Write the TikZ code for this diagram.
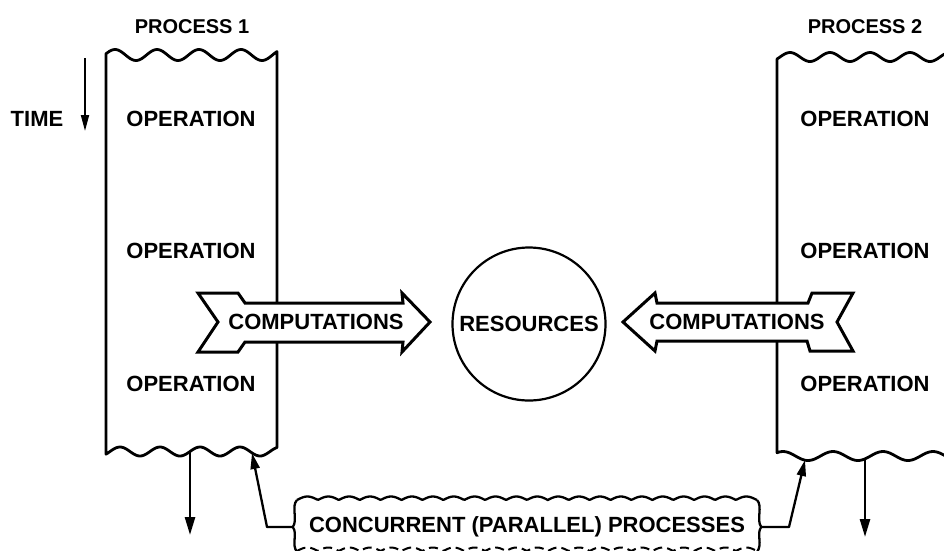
\documentclass[tikz,border=0pt]{standalone}
\usepackage{fontspec}
\setmainfont{Liberation Sans}
\usetikzlibrary{arrows.meta}
\begin{document}
\begin{tikzpicture}[x=1pt,y=-1pt,
  lbl/.style={font=\fontsize{22}{26}\selectfont\bfseries, inner sep=0pt},
  ttl/.style={font=\fontsize{20}{24}\selectfont\bfseries, inner sep=0pt},
  edge/.style={line width=2.8pt, line join=round},
  fatarrow/.style={line width=3pt, line join=miter, fill=white},
  flow/.style={line width=2.6pt, -{Triangle[length=18pt,width=10pt]}},
  link/.style={line width=2.3pt, line join=round, -{Triangle[length=16pt,width=9pt]}},
  timearrow/.style={line width=1.8pt, -{Triangle[length=16pt,width=8pt]}}]
\useasboundingbox (0,0) rectangle (944,550);
\begin{scope}
\clip (0,0) rectangle (944,550);

% process 1: torn sheet with wavy top and bottom
\draw[edge, fill=white]
  plot[domain=106:277, samples=100] (\x,{55-5.5*cos(8.5714*(\x-157))})
  -- plot[domain=277:106, samples=100] (\x,{451.5-4.5*cos(9*(\x-160))})
  -- cycle;

% process 2: runs off the right edge
\draw[edge, fill=white]
  plot[domain=777:960, samples=100] (\x,{57-4.5*cos(9*(\x-830))})
  -- plot[domain=960:777, samples=100] (\x,{456-4.5*cos(7.2*(\x-833))})
  -- cycle;

% titles and time axis
\node[ttl] (p1title) at (192,27) {PROCESS 1};
\node[ttl] (p2title) at (865,27) {PROCESS 2};
\node[lbl] (time) at (37,119) {TIME};
\coordinate (t0) at (85,58);
\coordinate (t1) at (85,131);
\draw[timearrow] (t0) -- (t1);

% operations
\node[lbl] (op11) at (191,119) {OPERATION};
\node[lbl] (op12) at (191,251) {OPERATION};
\node[lbl] (op13) at (191,384) {OPERATION};
\node[lbl] (op21) at (865,119) {OPERATION};
\node[lbl] (op22) at (865,251) {OPERATION};
\node[lbl] (op23) at (865,384) {OPERATION};

% computation arrows towards the shared resources
\draw[fatarrow] (198,293) -- (238,293) -- (245,303) -- (403,303) -- (402,293)
  -- (430,322) -- (402,352) -- (403,342) -- (245,342) -- (238,352)
  -- (198,352) -- (218,322) -- cycle;
\node[lbl] (comp1) at (316,322) {COMPUTATIONS};

\draw[fatarrow] (623,322) -- (655,293) -- (657,303) -- (808,303) -- (812,293)
  -- (853,293) -- (837,322) -- (853,351) -- (810,351) -- (807,341)
  -- (657,341) -- (655,351) -- cycle;
\node[lbl] (comp2) at (737,322) {COMPUTATIONS};

% shared resources
\node[lbl, circle, draw, line width=2.2pt, minimum size=153pt] (res) at (529,324) {RESOURCES};

% process outputs
\coordinate (p1out) at (190,451.5);
\coordinate (p1end) at (190,535);
\draw[flow] (p1out) -- (p1end);
\coordinate (p2out) at (865,458.5);
\coordinate (p2end) at (865,537);
\draw[flow] (p2out) -- (p2end);

% label box for concurrent processes
\node[lbl, minimum width=468pt] (cc) at (527,527) {CONCURRENT (PARALLEL) PROCESSES};
\draw[line width=2.3pt, line join=round]
  plot[domain=297:757, samples=300] (\x,{500-3.5*abs(sin(8.6124*(\x-297)))});
\draw[line width=2.3pt]
  (757,500) .. controls (763,506) and (756,520) .. (cc.east)
  .. controls (756,534) and (763,544) .. (757,552);
\draw[line width=2.3pt]
  (297,500) .. controls (291,506) and (298,520) .. (cc.west)
  .. controls (298,534) and (291,544) .. (297,552);
\draw[line width=2pt, dash pattern=on 9pt off 5pt]
  plot[domain=297:757, samples=300] (\x,{551-3.5*abs(sin(8.6124*(\x-297)))});

% links from the label to both processes
\coordinate (p1in) at (252,453);
\coordinate (p2in) at (805,460);
\draw[link] (cc.west) -- (267,527) -- (p1in);
\draw[link] (cc.east) -- (789,527) -- (p2in);
\end{scope}
\end{tikzpicture}
\end{document}
